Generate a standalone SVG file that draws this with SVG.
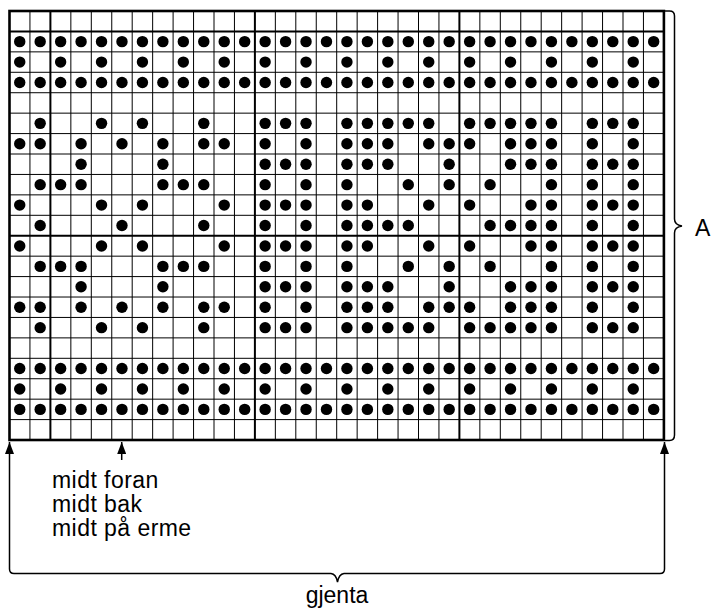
<svg xmlns="http://www.w3.org/2000/svg" xmlns:xlink="http://www.w3.org/1999/xlink" width="712" height="614" viewBox="0 0 712 614">
<style>
.thin{stroke:#000;stroke-width:1;fill:none}
.thick{stroke:#000;stroke-width:2;fill:none}
.border{stroke:#000;stroke-width:2.6;fill:none}
.br{stroke:#000;stroke-width:1.5;fill:none}
text{font-family:"Liberation Sans",Arial,Helvetica,sans-serif;font-size:23px;fill:#000}
.note{letter-spacing:0.45px}
</style>
<defs>
<circle id="d" r="5.7" fill="#000"/>
<marker id="ah" viewBox="0 0 12 9" refX="12" refY="4.5" markerWidth="12" markerHeight="9" markerUnits="userSpaceOnUse" orient="auto-start-reverse"><path d="M0,0L12,4.5L0,9z" fill="#000"/></marker>
<g id="rf"><use href="#d" x="19.73"/><use href="#d" x="40.18"/><use href="#d" x="60.63"/><use href="#d" x="81.08"/><use href="#d" x="101.53"/><use href="#d" x="121.98"/><use href="#d" x="142.43"/><use href="#d" x="162.88"/><use href="#d" x="183.33"/><use href="#d" x="203.78"/><use href="#d" x="224.23"/><use href="#d" x="244.68"/><use href="#d" x="265.13"/><use href="#d" x="285.58"/><use href="#d" x="306.03"/><use href="#d" x="326.48"/><use href="#d" x="346.93"/><use href="#d" x="367.38"/><use href="#d" x="387.83"/><use href="#d" x="408.28"/><use href="#d" x="428.73"/><use href="#d" x="449.18"/><use href="#d" x="469.63"/><use href="#d" x="490.08"/><use href="#d" x="510.53"/><use href="#d" x="530.98"/><use href="#d" x="551.43"/><use href="#d" x="571.88"/><use href="#d" x="592.33"/><use href="#d" x="612.78"/><use href="#d" x="633.23"/><use href="#d" x="653.68"/></g>
<g id="ra"><use href="#d" x="19.73"/><use href="#d" x="60.63"/><use href="#d" x="101.53"/><use href="#d" x="142.43"/><use href="#d" x="183.33"/><use href="#d" x="224.23"/><use href="#d" x="265.13"/><use href="#d" x="306.03"/><use href="#d" x="346.93"/><use href="#d" x="387.83"/><use href="#d" x="428.73"/><use href="#d" x="469.63"/><use href="#d" x="510.53"/><use href="#d" x="551.43"/><use href="#d" x="592.33"/><use href="#d" x="633.23"/></g>
<g id="p5"><use href="#d" x="40.18"/><use href="#d" x="101.53"/><use href="#d" x="142.43"/><use href="#d" x="203.78"/><use href="#d" x="265.13"/><use href="#d" x="285.58"/><use href="#d" x="306.03"/><use href="#d" x="346.93"/><use href="#d" x="367.38"/><use href="#d" x="387.83"/><use href="#d" x="408.28"/><use href="#d" x="428.73"/><use href="#d" x="469.63"/><use href="#d" x="490.08"/><use href="#d" x="510.53"/><use href="#d" x="530.98"/><use href="#d" x="551.43"/><use href="#d" x="592.33"/><use href="#d" x="612.78"/><use href="#d" x="633.23"/></g>
<g id="p6"><use href="#d" x="19.73"/><use href="#d" x="40.18"/><use href="#d" x="81.08"/><use href="#d" x="121.98"/><use href="#d" x="162.88"/><use href="#d" x="203.78"/><use href="#d" x="224.23"/><use href="#d" x="265.13"/><use href="#d" x="306.03"/><use href="#d" x="346.93"/><use href="#d" x="367.38"/><use href="#d" x="387.83"/><use href="#d" x="428.73"/><use href="#d" x="449.18"/><use href="#d" x="469.63"/><use href="#d" x="510.53"/><use href="#d" x="530.98"/><use href="#d" x="551.43"/><use href="#d" x="592.33"/><use href="#d" x="633.23"/></g>
<g id="p7"><use href="#d" x="81.08"/><use href="#d" x="162.88"/><use href="#d" x="265.13"/><use href="#d" x="285.58"/><use href="#d" x="306.03"/><use href="#d" x="346.93"/><use href="#d" x="367.38"/><use href="#d" x="387.83"/><use href="#d" x="449.18"/><use href="#d" x="510.53"/><use href="#d" x="530.98"/><use href="#d" x="551.43"/><use href="#d" x="592.33"/><use href="#d" x="612.78"/><use href="#d" x="633.23"/></g>
<g id="p8"><use href="#d" x="40.18"/><use href="#d" x="60.63"/><use href="#d" x="81.08"/><use href="#d" x="162.88"/><use href="#d" x="183.33"/><use href="#d" x="203.78"/><use href="#d" x="265.13"/><use href="#d" x="306.03"/><use href="#d" x="346.93"/><use href="#d" x="408.28"/><use href="#d" x="449.18"/><use href="#d" x="490.08"/><use href="#d" x="551.43"/><use href="#d" x="592.33"/><use href="#d" x="633.23"/></g>
<g id="p9"><use href="#d" x="19.73"/><use href="#d" x="101.53"/><use href="#d" x="142.43"/><use href="#d" x="224.23"/><use href="#d" x="265.13"/><use href="#d" x="285.58"/><use href="#d" x="306.03"/><use href="#d" x="346.93"/><use href="#d" x="367.38"/><use href="#d" x="428.73"/><use href="#d" x="469.63"/><use href="#d" x="530.98"/><use href="#d" x="551.43"/><use href="#d" x="592.33"/><use href="#d" x="612.78"/><use href="#d" x="633.23"/></g>
<g id="p10"><use href="#d" x="40.18"/><use href="#d" x="121.98"/><use href="#d" x="203.78"/><use href="#d" x="265.13"/><use href="#d" x="306.03"/><use href="#d" x="346.93"/><use href="#d" x="367.38"/><use href="#d" x="387.83"/><use href="#d" x="408.28"/><use href="#d" x="490.08"/><use href="#d" x="510.53"/><use href="#d" x="530.98"/><use href="#d" x="551.43"/><use href="#d" x="592.33"/><use href="#d" x="633.23"/></g>
</defs>
<rect width="712" height="614" fill="#fff"/>
<g id="grid">
<path class="thin" d="M29.95 11V440M70.85 11V440M91.3 11V440M111.75 11V440M132.2 11V440M152.65 11V440M173.1 11V440M193.55 11V440M214 11V440M234.45 11V440M275.35 11V440M295.8 11V440M316.25 11V440M336.7 11V440M357.15 11V440M377.6 11V440M398.05 11V440M418.5 11V440M438.95 11V440M479.85 11V440M500.3 11V440M520.75 11V440M541.2 11V440M561.65 11V440M582.1 11V440M602.55 11V440M623 11V440M643.45 11V440"/>
<path class="thin" d="M9.5 51.86H663.9M9.5 72.29H663.9M9.5 92.72H663.9M9.5 113.15H663.9M9.5 133.58H663.9M9.5 154.01H663.9M9.5 174.44H663.9M9.5 194.87H663.9M9.5 215.3H663.9M9.5 256.16H663.9M9.5 276.59H663.9M9.5 297.02H663.9M9.5 317.45H663.9M9.5 337.88H663.9M9.5 358.31H663.9M9.5 378.74H663.9M9.5 399.17H663.9M9.5 419.6H663.9"/>
<path class="thick" d="M50.4 11V440M254.9 11V440M459.4 11V440M9.5 31.43H663.9M9.5 235.73H663.9"/>
<rect class="border" x="9.5" y="11" width="654.4" height="429"/>
</g>
<g id="dots">
<use href="#rf" y="41.65"/>
<use href="#ra" y="62.08"/>
<use href="#rf" y="82.51"/>
<use href="#p5" y="123.37"/>
<use href="#p6" y="143.8"/>
<use href="#p7" y="164.23"/>
<use href="#p8" y="184.66"/>
<use href="#p9" y="205.09"/>
<use href="#p10" y="225.52"/>
<use href="#p9" y="245.95"/>
<use href="#p8" y="266.38"/>
<use href="#p7" y="286.81"/>
<use href="#p6" y="307.24"/>
<use href="#p5" y="327.67"/>
<use href="#rf" y="368.53"/>
<use href="#ra" y="388.96"/>
<use href="#rf" y="409.39"/>
</g>
<g id="connectors">
<path class="br" d="M664 11H669.5Q674.5 11 674.5 16V219Q674.5 225 682 226Q674.5 227 674.5 233V435Q674.5 440.5 669.5 440.5H665"/>
<path class="br" d="M9.5 442V569Q9.5 573.5 14 573.5H331Q336 574 337.5 582Q339 574 344 573.5H660Q664.5 573.5 664.5 569V442" marker-start="url(#ah)" marker-end="url(#ah)"/>
<path class="br" d="M121.7 460V442" marker-end="url(#ah)"/>
</g>
<g id="labels">
<text class="note" x="52" y="488">midt foran</text>
<text class="note" x="52" y="512">midt bak</text>
<text class="note" x="52" y="536">midt på erme</text>
<text x="337" y="603" text-anchor="middle">gjenta</text>
<text x="695" y="236">A</text>
</g>
</svg>
